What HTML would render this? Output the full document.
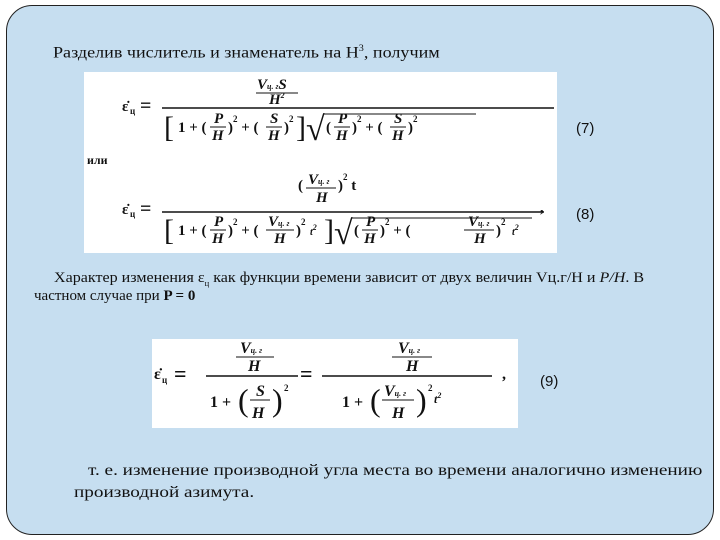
<!DOCTYPE html>
<html><head><meta charset="utf-8"><style>
body{margin:0;width:720px;height:540px;background:#fff;position:relative;overflow:hidden;font-family:"Liberation Serif",serif;}
.panel{position:absolute;left:6px;top:5px;width:708px;height:530px;box-sizing:border-box;border:1.5px solid #222;border-radius:26px;background:#c6def0;}
.t{position:absolute;font-size:14.5px;color:#111;white-space:nowrap;transform-origin:0 0;}
.box{position:absolute;background:#fff;}
svg text{font-family:"Liberation Serif",serif;fill:#111;}
</style></head><body>
<div class="panel"></div>
<div class="t" style="left:53px;top:43px;font-size:16px;transform:scaleX(1.13);">Разделив числитель и знаменатель на H<sup style="font-size:9px">3</sup>, получим</div>

<div class="box" style="left:84px;top:72px;width:473px;height:181px;">
<svg width="473" height="181">
 <g font-style="italic" font-size="15" font-weight="bold">
 <text x="38" y="39" font-style="normal">ε̇</text><text x="46" y="42" font-size="9" font-style="normal">ц</text>
 <text x="56" y="40" font-style="normal" font-size="20">=</text>
 <text x="173" y="17">V<tspan font-size="8">ц. г</tspan>S</text>
 <line x1="172" y1="21" x2="214" y2="21" stroke="#111"/>
 <text x="185" y="32">H<tspan font-size="8" dy="-6">2</tspan></text>
 <line x1="78" y1="36" x2="470" y2="36" stroke="#111" stroke-width="1.5"/>
 <text x="80" y="65" font-style="normal" font-size="30" font-weight="normal">[</text>
 <text x="94" y="60" font-style="normal">1 + (</text>
 <text x="130" y="51">P</text><line x1="126" y1="55" x2="142" y2="55" stroke="#111"/><text x="128" y="68">H</text>
 <text x="144" y="60" font-style="normal">)<tspan font-size="9" dy="-10">2</tspan><tspan dy="10"> + (</tspan></text>
 <text x="186" y="51">S</text><line x1="182" y1="55" x2="198" y2="55" stroke="#111"/><text x="184" y="68">H</text>
 <text x="200" y="60" font-style="normal">)<tspan font-size="9" dy="-10">2</tspan></text>
 <text x="212" y="65" font-style="normal" font-size="30" font-weight="normal">]</text>
 <text x="222" y="68" font-style="normal" font-size="34" font-weight="normal">√</text>
 <line x1="240" y1="42" x2="392" y2="42" stroke="#111"/>
 <text x="242" y="60" font-style="normal">(</text>
 <text x="254" y="51">P</text><line x1="250" y1="55" x2="266" y2="55" stroke="#111"/><text x="252" y="68">H</text>
 <text x="268" y="60" font-style="normal">)<tspan font-size="9" dy="-10">2</tspan><tspan dy="10"> + (</tspan></text>
 <text x="310" y="51">S</text><line x1="306" y1="55" x2="322" y2="55" stroke="#111"/><text x="308" y="68">H</text>
 <text x="324" y="60" font-style="normal">)<tspan font-size="9" dy="-10">2</tspan></text>
 <text x="3" y="92" font-style="normal" font-weight="bold" font-size="12">или</text>
 <text x="38" y="142" font-style="normal">ε̇</text><text x="46" y="145" font-size="9" font-style="normal">ц</text>
 <text x="56" y="143" font-style="normal" font-size="20">=</text>
 <text x="214" y="118" font-style="normal">(</text><text x="224" y="112">V<tspan font-size="8">ц. г</tspan></text>
 <line x1="222" y1="116" x2="252" y2="116" stroke="#111"/><text x="232" y="130">H</text>
 <text x="254" y="118" font-style="normal">)<tspan font-size="9" dy="-10">2</tspan><tspan dy="10"> t</tspan></text>
 <line x1="78" y1="140" x2="460" y2="140" stroke="#111" stroke-width="1.5"/>
 <text x="80" y="168" font-style="normal" font-size="30" font-weight="normal">[</text>
 <text x="94" y="163" font-style="normal">1 + (</text>
 <text x="130" y="154">P</text><line x1="126" y1="158" x2="142" y2="158" stroke="#111"/><text x="128" y="171">H</text>
 <text x="144" y="163" font-style="normal">)<tspan font-size="9" dy="-10">2</tspan><tspan dy="10"> + (</tspan></text>
 <text x="184" y="154">V<tspan font-size="8">ц. г</tspan></text><line x1="182" y1="158" x2="210" y2="158" stroke="#111"/><text x="190" y="171">H</text>
 <text x="212" y="163" font-style="normal">)<tspan font-size="9" dy="-10">2</tspan></text><text x="226" y="163" font-size="10">t<tspan dy="-5" font-size="8">2</tspan></text>
 <text x="240" y="168" font-style="normal" font-size="30" font-weight="normal">]</text>
 <text x="250" y="172" font-style="normal" font-size="34" font-weight="normal">√</text>
 <line x1="268" y1="146" x2="448" y2="146" stroke="#111"/>
 <text x="270" y="163" font-style="normal">(</text>
 <text x="282" y="154">P</text><line x1="278" y1="158" x2="294" y2="158" stroke="#111"/><text x="280" y="171">H</text>
 <text x="296" y="163" font-style="normal">)<tspan font-size="9" dy="-10">2</tspan><tspan dy="10"> + (</tspan></text>
 <text x="384" y="154">V<tspan font-size="8">ц. г</tspan></text><line x1="380" y1="158" x2="410" y2="158" stroke="#111"/><text x="390" y="171">H</text>
 <text x="412" y="163" font-style="normal">)<tspan font-size="9" dy="-10">2</tspan></text><text x="428" y="163" font-size="10">t<tspan dy="-5" font-size="8">2</tspan></text>
 <text x="456" y="140" font-style="normal">,</text>
 </g>
</svg>
</div>
<div class="t" style="left:576px;top:120px;font-family:'Liberation Sans',sans-serif;font-size:15px;">(7)</div>
<div class="t" style="left:576px;top:206px;font-family:'Liberation Sans',sans-serif;font-size:15px;">(8)</div>

<div class="t" style="left:54px;top:270px;font-size:15px;transform:scaleX(1.07);">Характер изменения ε<sub style="font-size:8px">ц</sub> как функции времени зависит от двух величин Vц.г/H и <i>P/H</i>. В</div>
<div class="t" style="left:34px;top:288px;font-size:15px;">частном случае при <b>P = 0</b></div>

<div class="box" style="left:152px;top:339px;width:366px;height:89px;">
<svg width="366" height="89">
 <g font-style="italic" font-size="16" font-weight="bold">
 <text x="2" y="40" font-style="normal">ε̇</text><text x="10" y="44" font-size="9" font-style="normal">ц</text>
 <text x="22" y="42" font-style="normal" font-size="22">=</text>
 <text x="88" y="14">V<tspan font-size="8">ц. г</tspan></text>
 <line x1="84" y1="18" x2="122" y2="18" stroke="#111"/><text x="96" y="32">H</text>
 <line x1="54" y1="37" x2="146" y2="37" stroke="#111" stroke-width="1.4"/>
 <text x="58" y="68" font-style="normal">1 + </text><text x="86" y="72" font-style="normal" font-size="32" font-weight="normal">(</text>
 <text x="104" y="57">S</text><line x1="98" y1="61" x2="118" y2="61" stroke="#111"/><text x="100" y="79">H</text>
 <text x="120" y="72" font-style="normal" font-size="32" font-weight="normal">)</text><text x="132" y="52" font-size="9" font-style="normal">2</text>
 <text x="148" y="42" font-style="normal" font-size="22">=</text>
 <text x="246" y="14">V<tspan font-size="8">ц. г</tspan></text>
 <line x1="240" y1="18" x2="280" y2="18" stroke="#111"/><text x="254" y="32">H</text>
 <line x1="170" y1="37" x2="340" y2="37" stroke="#111" stroke-width="1.4"/>
 <text x="190" y="68" font-style="normal">1 + </text><text x="218" y="72" font-style="normal" font-size="32" font-weight="normal">(</text>
 <text x="232" y="57">V<tspan font-size="8">ц. г</tspan></text><line x1="230" y1="61" x2="262" y2="61" stroke="#111"/><text x="240" y="79">H</text>
 <text x="264" y="72" font-style="normal" font-size="32" font-weight="normal">)</text><text x="276" y="52" font-size="9" font-style="normal">2</text><text x="282" y="64" font-size="12">t<tspan dy="-5" font-size="8">2</tspan></text>
 <text x="350" y="40" font-style="normal">,</text>
 </g>
</svg>
</div>
<div class="t" style="left:540px;top:373px;font-family:'Liberation Sans',sans-serif;font-size:15px;">(9)</div>

<div class="t" style="left:88px;top:462px;font-size:16px;transform:scaleX(1.2);">т. е. изменение производной угла места во времени аналогично изменению</div>
<div class="t" style="left:74px;top:484px;font-size:16px;transform:scaleX(1.2);">производной азимута.</div>
</body></html>
